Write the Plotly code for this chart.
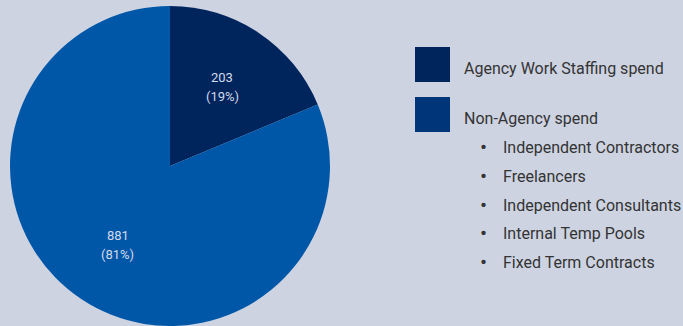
import math
import plotly.graph_objects as go

# Spend split
categories = ["Agency Work Staffing spend", "Non-Agency spend"]
values = [203, 881]
percent_labels = ["19%", "81%"]
non_agency_items = [
    "Independent Contractors",
    "Freelancers",
    "Independent Consultants",
    "Internal Temp Pools",
    "Fixed Term Contracts",
]

slice_colors = ["#00245C", "#0057A8"]
legend_colors = ["#00245C", "#00357A"]
bg = "#CED3E2"
W, H = 683, 326
FONT = "Roboto, sans-serif"

# Pie geometry (pixels): centre and radius
CX, CY, R = 170, 166, 160

fig = go.Figure()
fig.add_trace(go.Pie(
    labels=categories,
    values=values,
    sort=False,
    direction="clockwise",
    rotation=0,
    marker=dict(colors=slice_colors, line=dict(width=0)),
    textinfo="none",
    hoverinfo="skip",
    showlegend=False,
    domain=dict(x=[(CX - R) / W, (CX + R) / W], y=[(H - CY - R) / H, (H - CY + R) / H]),
))

# Value / percentage labels placed along each slice's bisector
total = sum(values)
start = 0.0
for v, pct in zip(values, percent_labels):
    frac = v / total
    mid = (start + frac / 2) * 2 * math.pi
    start += frac
    px = CX + 0.59 * R * math.sin(mid)
    py = CY - 0.59 * R * math.cos(mid)
    for txt, dy in ((str(v), -9.5), (f"({pct})", 9.5)):
        fig.add_annotation(x=px / W, y=1 - py / H, xref="paper", yref="paper",
                           text=txt, showarrow=False, yshift=-dy,
                           xanchor="center", yanchor="middle",
                           font=dict(family=FONT, size=13, color="#D3DAEA"))

# Legend swatches and labels
swatch_tops = [47, 97]
for color, top, name in zip(legend_colors, swatch_tops, categories):
    fig.add_shape(type="rect", xref="paper", yref="paper",
                  x0=415 / W, x1=450 / W, y0=1 - (top + 35) / H, y1=1 - top / H,
                  fillcolor=color, line=dict(width=0))
    fig.add_annotation(x=462 / W, y=1 - (top + 21) / H, xref="paper", yref="paper",
                       text=name, showarrow=False, xanchor="left", yanchor="middle",
                       font=dict(family=FONT, size=16, color="#333333"))

# Bulleted breakdown of non-agency spend
item_y = [147, 176, 205, 233, 262]
for label, yc in zip(non_agency_items, item_y):
    fig.add_annotation(x=483 / W, y=1 - yc / H, xref="paper", yref="paper",
                       text="•", showarrow=False, xanchor="center", yanchor="middle",
                       font=dict(family=FONT, size=21, color="#333333"))
    fig.add_annotation(x=501 / W, y=1 - yc / H, xref="paper", yref="paper",
                       text=label, showarrow=False, xanchor="left", yanchor="middle",
                       font=dict(family=FONT, size=16, color="#333333"))

fig.update_layout(
    width=W, height=H,
    margin=dict(l=0, r=0, t=0, b=0),
    paper_bgcolor=bg, plot_bgcolor=bg,
)

fig.write_html("out.html")
